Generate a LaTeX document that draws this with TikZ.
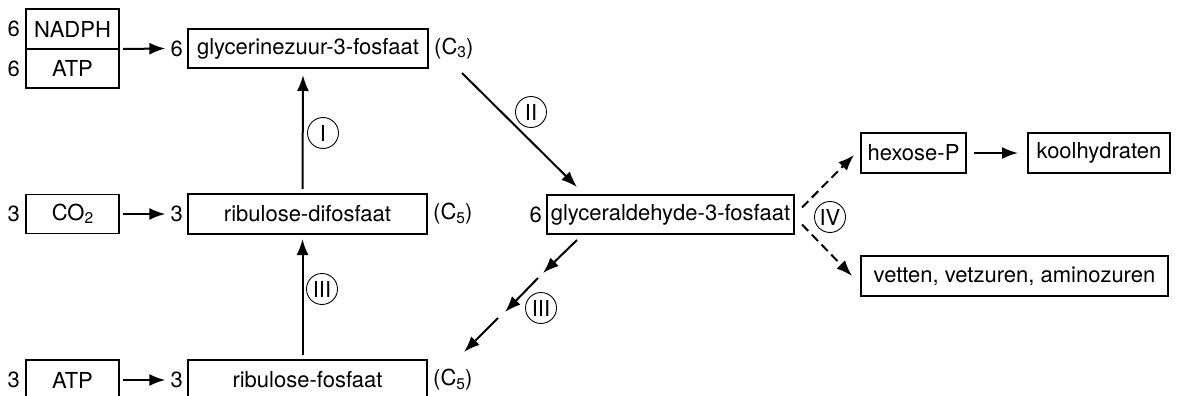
\documentclass[tikz,border=0pt]{standalone}
\usepackage{fontspec}
\setmainfont{TeX Gyre Heros}
\usetikzlibrary{positioning,arrows.meta}

\tikzset{
  box/.style={draw, line width=1.3pt, minimum height=39pt, inner sep=2pt, outer sep=0pt},
  num/.style={inner sep=2pt},
  pway/.style={circle, draw, line width=0.9pt, minimum size=31pt, inner sep=0pt},
  arr/.style={-{Latex[length=16pt,width=12pt]}, line width=2pt},
  darr/.style={arr, dash pattern=on 9pt off 5pt},
}
\newcommand{\lowsub}[1]{\raisebox{-0.3ex}{\fontsize{15.5}{17}\selectfont #1}}

\begin{document}
\begin{tikzpicture}[x=1pt, y=-1pt, font=\fontsize{22}{24}\selectfont]
\useasboundingbox (0,0) rectangle (1179,396);

% inputs
\node[box, minimum width=93pt, minimum height=40pt] (nadph) at (72.5,29) {NADPH};
\node[box, minimum width=93pt, below=0pt of nadph] (atpa) {ATP};
\node[num, left=4pt of nadph] (n6a) {6};
\node[num, left=4pt of atpa] (n6b) {6};
\node[box, minimum width=93pt] (co2) at (72.5,214) {CO\lowsub{2}};
\node[num, left=4pt of co2] (n3a) {3};
\node[box, minimum width=93pt, minimum height=40pt] (atpb) at (72.5,380) {ATP};
\node[num, left=4pt of atpb] (n3b) {3};

% cycle
\node[box, minimum width=240pt] (glyz) at (308,48.5) {glycerinezuur-3-fosfaat};
\node[num, left=3pt of glyz] (g6) {6};
\node[num, right=4pt of glyz] (c3) {(C\lowsub{3})};
\node[box, minimum width=239pt, minimum height=40pt] (rudp) at (307.5,214) {ribulose-difosfaat};
\node[num, left=3pt of rudp] (r3a) {3};
\node[num, right=4pt of rudp] (c5a) {(C\lowsub{5})};
\node[box, minimum width=239pt, minimum height=40pt] (rup) at (307.5,380) {ribulose-fosfaat};
\node[num, left=3pt of rup] (r3b) {3};
\node[num, right=4pt of rup] (c5b) {(C\lowsub{5})};
\node[box, minimum width=247pt] (glyald) at (670.5,214.5) {glyceraldehyde-3-fosfaat};
\node[num, left=3pt of glyald] (a6) {6};

% products
\node[box, minimum width=105pt, minimum height=40pt] (hexp) at (913.5,153) {hexose-P};
\node[box, minimum width=142pt, minimum height=40pt] (kool) at (1099,153) {koolhydraten};
\node[box, minimum width=307pt, minimum height=40pt] (vet) at (1014.5,276) {vetten, vetzuren, aminozuren};

% arrows
\draw[arr] ([xshift=4pt]nadph.south east) -- ([xshift=-3pt]g6.west);
\draw[arr] ([xshift=4pt]co2.east) -- ([xshift=-3pt]r3a.west);
\draw[arr] ([xshift=4pt]atpb.east) -- ([xshift=-3pt]r3b.west);
\draw[arr] ([xshift=-5pt,yshift=5pt]rudp.north) -- ([xshift=-5pt,yshift=-7pt]glyz.south);
\draw[arr] ([xshift=-5pt,yshift=5pt]rup.north) -- ([xshift=-5pt,yshift=-5pt]rudp.south);
\draw[arr] ([xshift=34pt,yshift=-5pt]glyz.south east) -- ([xshift=30pt,yshift=8pt]glyald.north west);
\draw[arr] ([xshift=30pt,yshift=-6pt]glyald.south west) -- ++(-34,33);
\draw[arr] ([xshift=-9pt,yshift=-44pt]glyald.south west) -- ++(-33,34);
\draw[arr] ([xshift=-49pt,yshift=-84pt]glyald.south west) -- ++(-34,34);
\draw[darr] ([xshift=8pt,yshift=7pt]glyald.east) -- ([xshift=-7pt,yshift=18pt]hexp.south west);
\draw[darr] ([xshift=8pt,yshift=-10pt]glyald.east) -- ([xshift=-9pt]vet.west);
\draw[arr] ([xshift=8pt]hexp.east) -- ([xshift=-10pt]kool.west);

% steps
\node[pway] (sI) at (323,133) {I};
\node[pway] (sII) at (531,112) {II};
\node[pway] (sIIIa) at (322,289) {III};
\node[pway] (sIIIb) at (541,308) {III};
\node[pway] (sIV) at (830,217) {IV};
\end{tikzpicture}
\end{document}
